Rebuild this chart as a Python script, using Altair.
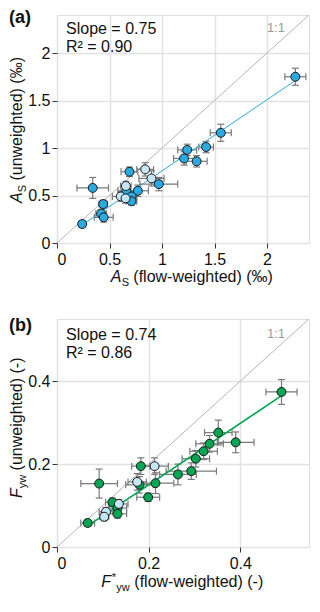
import altair as alt
import pandas as pd

# ---------------- Panel (a): A_S ----------------
a_x = [2.27, 1.56, 1.24, 1.42, 1.21, 1.33, 0.69, 0.97, 0.66, 0.77, 0.71, 0.71, 0.44, 0.42, 0.445, 0.34, 0.24,
       0.84, 0.90, 0.656, 0.607, 0.653]
a_y = [1.75, 1.16, 0.98, 1.01, 0.89, 0.86, 0.75, 0.62, 0.55, 0.55, 0.49, 0.44, 0.41, 0.31, 0.27, 0.58, 0.20,
       0.775, 0.68, 0.60, 0.49, 0.47]
a_xerr = [0.10, 0.10, 0.09, 0.07, 0.10, 0.10, 0.08, 0.18, 0.08, 0.10, 0.05, 0.05, 0.04, 0.05, 0.09, 0.15, 0.03,
          0.08, 0.12, 0.05, 0.08, 0.06]
a_yerr = [0.09, 0.09, 0.06, 0.06, 0.07, 0.06, 0.05, 0.07, 0.05, 0.06, 0.04, 0.04, 0.04, 0.04, 0.05, 0.11, 0.02,
          0.07, 0.08, 0.05, 0.05, 0.05]
a_group = ["dark"] * 17 + ["light"] * 5
a_fit_x = [0.24, 2.27]
a_fit_y = [0.19, 1.71]
a_one_x = [0, 2.4]
a_one_y = [0, 2.4]
a_ticks = [0, 0.5, 1, 1.5, 2]
a_domain = [0, 2.4]
a_texts = ["Slope = 0.75", "R² = 0.90", "1:1", "(a)"]

# ---------------- Panel (b): F_yw ----------------
b_x = [0.49, 0.352, 0.39, 0.333, 0.32, 0.303, 0.293, 0.264, 0.183, 0.215, 0.18, 0.199, 0.092, 0.121, 0.132, 0.132, 0.067,
       0.213, 0.175, 0.135, 0.107, 0.103]
b_y = [0.374, 0.276, 0.2525, 0.249, 0.231, 0.213, 0.183, 0.175, 0.195, 0.154, 0.15, 0.12, 0.153, 0.108, 0.094, 0.08, 0.058,
       0.195, 0.157, 0.104, 0.085, 0.073]
b_xerr = [0.034, 0.03, 0.04, 0.03, 0.03, 0.03, 0.055, 0.04, 0.02, 0.04, 0.03, 0.025, 0.04, 0.015, 0.02, 0.02, 0.015,
          0.03, 0.02, 0.02, 0.015, 0.01]
b_yerr = [0.03, 0.03, 0.025, 0.02, 0.02, 0.02, 0.02, 0.025, 0.02, 0.025, 0.02, 0.01, 0.035, 0.01, 0.015, 0.01, 0.008,
          0.02, 0.02, 0.01, 0.01, 0.01]
b_group = ["dark"] * 17 + ["light"] * 5
b_fit_x = [0.067, 0.49]
b_fit_y = [0.051, 0.365]
b_one_x = [0, 0.55]
b_one_y = [0, 0.55]
b_ticks = [0, 0.2, 0.4]
b_domain = [0, 0.55]
b_texts = ["Slope = 0.74", "R² = 0.86", "1:1", "(b)"]

FONT = "Liberation Sans"
W, H = 252, 228
ERR = "#7a7a7a"
INK = "#111111"
YT_X = -35.0


def text_layer(txt, x, y, size=16, color=INK, style="normal", weight="normal",
               align="left", angle=0):
    df = pd.DataFrame({"t": [txt]})
    return alt.Chart(df).mark_text(
        align=align, baseline="alphabetic", fontSize=size, font=FONT, color=color,
        fontStyle=style, fontWeight=weight, angle=angle
    ).encode(x=alt.value(x), y=alt.value(y), text="t:N")


def panel(xs, ys, xe, ye, grp, fx, fy, ox, oy, ticks, domain, texts,
          dark, light, line_color, line_width, xtitle, ytitle, tag_y, note_y):
    df = pd.DataFrame({"x": xs, "y": ys, "xe": xe, "ye": ye, "g": grp})
    df["xlo"] = df["x"] - df["xe"]
    df["xhi"] = df["x"] + df["xe"]
    df["ylo"] = df["y"] - df["ye"]
    df["yhi"] = df["y"] + df["ye"]
    sx = alt.Scale(domain=domain, nice=False, zero=False)
    sy = alt.Scale(domain=domain, nice=False, zero=False)
    common = dict(values=ticks, format="~g", title=None, grid=True, gridColor="#e2e2e2",
                  gridWidth=1.5, domain=False, tickColor="#333333", tickSize=5, tickWidth=1,
                  labelFontSize=16, labelFont=FONT, labelColor=INK)
    ax = alt.Axis(labelPadding=3, **common)
    ay = alt.Axis(labelPadding=2, **common)

    base = alt.Chart(df)
    grid = base.mark_point(opacity=0).encode(
        x=alt.X("x:Q", scale=sx, axis=ax), y=alt.Y("y:Q", scale=sy, axis=ay))

    one = alt.Chart(pd.DataFrame({"x": ox, "y": oy})).mark_line(
        color="#b4b4b4", strokeWidth=1).encode(
        x=alt.X("x:Q", scale=sx), y=alt.Y("y:Q", scale=sy))

    hbar = base.mark_rule(color=ERR, strokeWidth=1.2).encode(
        x=alt.X("xlo:Q", scale=sx), x2="xhi:Q", y=alt.Y("y:Q", scale=sy))
    vbar = base.mark_rule(color=ERR, strokeWidth=1.2).encode(
        y=alt.Y("ylo:Q", scale=sy), y2="yhi:Q", x=alt.X("x:Q", scale=sx))
    tick_kw = dict(size=7, thickness=1.2, color=ERR, opacity=1)
    cap_l = base.mark_tick(orient="vertical", **tick_kw).encode(
        x=alt.X("xlo:Q", scale=sx), y=alt.Y("y:Q", scale=sy))
    cap_r = base.mark_tick(orient="vertical", **tick_kw).encode(
        x=alt.X("xhi:Q", scale=sx), y=alt.Y("y:Q", scale=sy))
    cap_b = base.mark_tick(orient="horizontal", **tick_kw).encode(
        x=alt.X("x:Q", scale=sx), y=alt.Y("ylo:Q", scale=sy))
    cap_t = base.mark_tick(orient="horizontal", **tick_kw).encode(
        x=alt.X("x:Q", scale=sx), y=alt.Y("yhi:Q", scale=sy))

    fit = alt.Chart(pd.DataFrame({"x": fx, "y": fy})).mark_line(
        color=line_color, strokeWidth=line_width).encode(
        x=alt.X("x:Q", scale=sx), y=alt.Y("y:Q", scale=sy))

    pts = base.mark_circle(size=80, opacity=1, stroke="#1a1a1a", strokeWidth=1).encode(
        x=alt.X("x:Q", scale=sx), y=alt.Y("y:Q", scale=sy),
        color=alt.Color("g:N", scale=alt.Scale(domain=["dark", "light"], range=[dark, light]),
                        legend=None))

    layers = [grid, one, hbar, vbar, cap_l, cap_r, cap_b, cap_t, fit, pts]
    layers.append(text_layer(texts[0], 9, note_y))
    layers.append(text_layer(texts[1], 9, note_y + 18))
    layers.append(text_layer(texts[2], W - 24, note_y - 2, size=13, color="#9a9a9a", align="right"))
    layers.append(text_layer(texts[3], -48, tag_y, size=18, weight="bold"))
    for piece in xtitle:
        layers.append(text_layer(*piece))
    for piece in ytitle:
        layers.append(text_layer(*piece))
    return alt.layer(*layers).properties(width=W, height=H)


def xtitle(parts, base_y):
    return [(t, x, base_y + dy, size, INK, style) for (t, x, dy, size, style) in parts]


def ytitle(parts):
    return [(t, YT_X + shift, yv, size, INK, style, "normal", "left", 270)
            for (t, yv, size, style, shift) in parts]


a_xt = xtitle([("A", 53.8, 0, 16, "italic"),
               ("S", 64.8, 3.5, 11, "normal"),
               ("(flow-weighted) (‰)", 76.3, 0, 16, "normal")], H + 39)
b_xt = xtitle([("F", 44.3, 0, 16, "italic"),
               ("*", 54.8, -6, 11, "normal"),
               ("yw", 59.3, 3.5, 11, "normal"),
               ("(flow-weighted) (-)", 77.3, 0, 16, "normal")], H + 40)

a_yt = ytitle([("A", 188.0, 16, "italic", 0), ("S", 177.3, 11, "normal", 3.5),
               ("(unweighted) (‰)", 165.6, 16, "normal", 0)])
b_yt = ytitle([("F", 179.0, 16, "italic", 0), ("yw", 169.2, 11, "normal", 3.5),
               ("(unweighted) (-)", 151.4, 16, "normal", 0)])

pa = panel(a_x, a_y, a_xerr, a_yerr, a_group, a_fit_x, a_fit_y, a_one_x, a_one_y, a_ticks, a_domain,
           a_texts, "#29abe2", "#c4e6f8", "#29abe2", 1, a_xt, a_yt, 8, 19)
pb = panel(b_x, b_y, b_xerr, b_yerr, b_group, b_fit_x, b_fit_y, b_one_x, b_one_y, b_ticks, b_domain,
           b_texts, "#00a651", "#c4e6f8", "#00a651", 1.6, b_xt, b_yt, 12, 21)

chart = alt.vconcat(pa, pb, spacing=76, bounds="flush").resolve_scale(
    color="independent"
).properties(
    padding={"left": 0, "top": 0, "right": 0, "bottom": 0}
).configure_view(stroke="#3a3a3a", strokeWidth=1.2).configure(font=FONT)

chart.save("out.html", embed_options={"renderer": "svg", "actions": False})
